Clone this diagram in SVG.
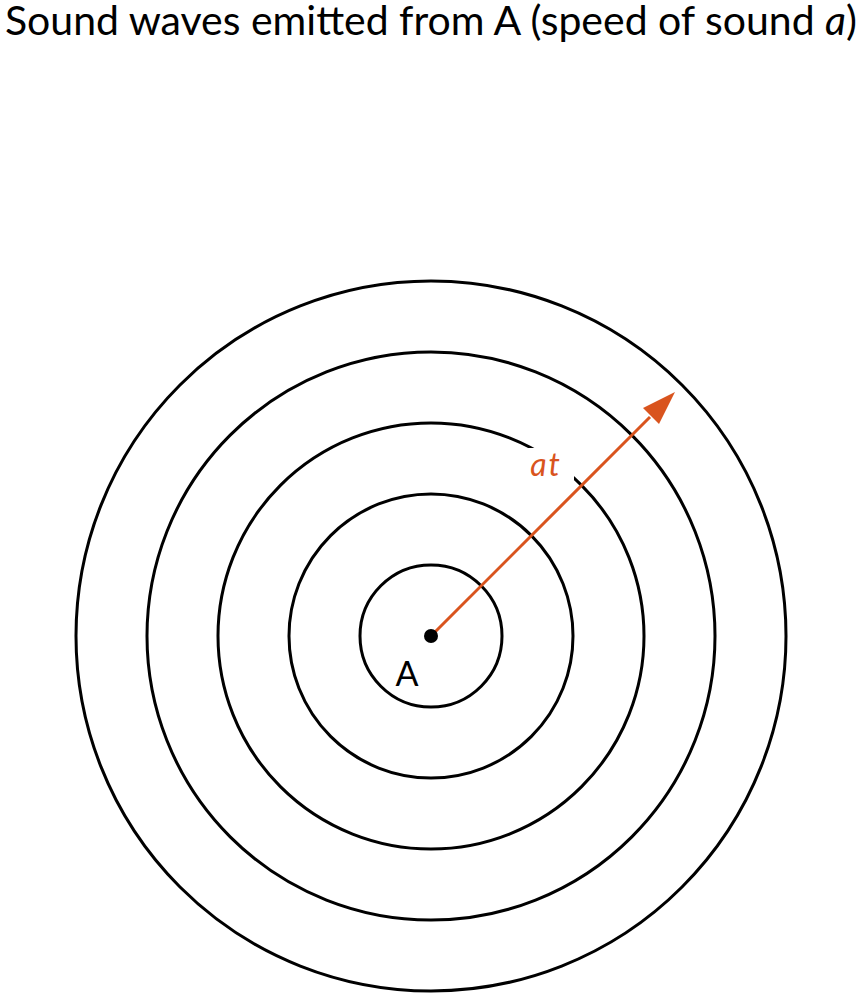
<svg xmlns="http://www.w3.org/2000/svg" width="862" height="993" viewBox="0 0 862 993">
<style>
.c{fill:none;stroke:#000;stroke-width:3}
.t{font-family:Lato,"Liberation Sans",sans-serif;fill:#000}
</style>
<rect width="862" height="993" fill="#fff"/>
<text class="t" x="431" y="35" font-size="40" text-anchor="middle" textLength="852" lengthAdjust="spacingAndGlyphs">Sound waves emitted from A (speed of sound <tspan font-style="italic">a</tspan>)</text>
<g id="waves">
<circle class="c" cx="431" cy="636" r="71"/>
<circle class="c" cx="431" cy="636" r="142"/>
<circle class="c" cx="431" cy="636" r="213"/>
<circle class="c" cx="431" cy="636" r="284"/>
<circle class="c" cx="431" cy="636" r="355"/>
</g>
<rect x="522" y="448" width="52" height="32" fill="#fff"/>
<g id="connectors">
<line x1="431" y1="636" x2="650" y2="417" stroke="#d9541e" stroke-width="3"/>
<polygon points="675,392 643,408 659,424" fill="#d9541e"/>
</g>
<text x="546" y="476" font-size="32" font-style="italic" font-family="Lato,'Liberation Sans',sans-serif" fill="#d9541e" text-anchor="middle" letter-spacing="2">at</text>
<g id="A">
<circle cx="431" cy="636" r="7" fill="#000"/>
<text class="t" x="407" y="686" font-size="34" text-anchor="middle">A</text>
</g>
</svg>
